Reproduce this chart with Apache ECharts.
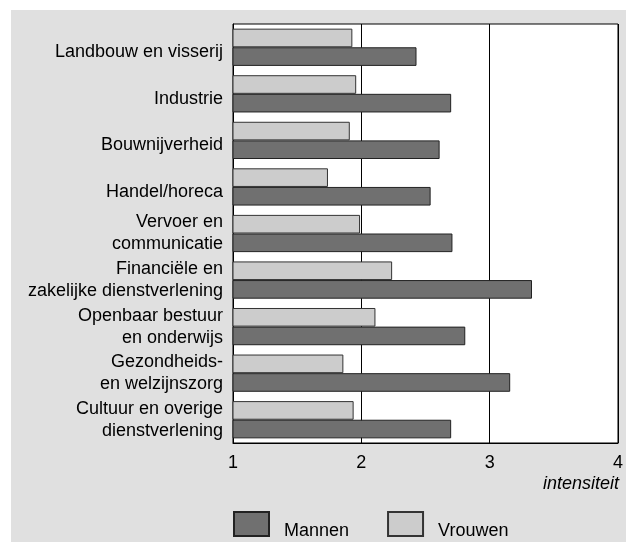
<!DOCTYPE html>
<html><head><meta charset="utf-8">
<script src="https://cdn.jsdelivr.net/npm/echarts@6/dist/echarts.min.js"></script>
<style>
html,body{margin:0;padding:0;background:#fff;}
#bg{position:absolute;left:11px;top:10px;width:615px;height:532px;background:#e0e0e0;}
#c{position:absolute;left:0;top:0;width:626px;height:542px;}
</style></head>
<body><div id="bg"></div><div id="c"></div>
<script>
const categories = [
  "Landbouw en visserij",
  "Industrie",
  "Bouwnijverheid",
  "Handel/horeca",
  "Vervoer en\ncommunicatie",
  "Financiële en\nzakelijke dienstverlening",
  "Openbaar bestuur\nen onderwijs",
  "Gezondheids-\nen welzijnszorg",
  "Cultuur en overige\ndienstverlening"
];
const vrouwen = [1.93, 1.96, 1.91, 1.74, 1.99, 2.24, 2.11, 1.86, 1.94];
const mannen  = [2.43, 2.70, 2.61, 2.54, 2.71, 3.33, 2.81, 3.16, 2.70];
const xTicks = [1, 2, 3, 4];
const xName = "intensiteit";

const chart = echarts.init(document.getElementById('c'), null, {renderer:'canvas'});
const FONT = "'Liberation Sans', Arial, Helvetica, sans-serif";
chart.setOption({
  backgroundColor: 'transparent',
  animation: false,
  textStyle: {fontFamily: FONT, color: '#000'},
  grid: {left: 233, right: 7, top: 24, bottom: 99, show: true, backgroundColor: '#fff', borderColor: '#000', borderWidth: 1},
  legend: {
    left: 228, top: 503, itemWidth: 35, itemHeight: 24, itemGap: 38, icon: 'rect',
    data: ['Mannen', 'Vrouwen'],
    formatter: function (n) { return '\n' + n; },
    textStyle: {fontSize: 18, lineHeight: 14, fontFamily: FONT, color: '#000', padding: [0, 0, 0, 10]}
  },
  xAxis: {
    type: 'value', min: xTicks[0], max: xTicks[xTicks.length - 1], interval: 1,
    axisLine: {show: true, lineStyle: {color: '#000'}},
    axisTick: {show: false},
    axisLabel: {fontSize: 18, color: '#000', margin: 11, fontFamily: FONT},
    splitLine: {show: true, lineStyle: {color: '#000', width: 1}}
  },
  yAxis: {
    type: 'category', data: categories, inverse: true,
    axisLine: {show: true, lineStyle: {color: '#000'}},
    axisTick: {show: false},
    splitLine: {show: false},
    axisLabel: {
      margin: 10, color: '#000', fontSize: 18, lineHeight: 22, fontFamily: FONT, align: 'right',
      formatter: function (v) {
        if (v.indexOf('\n') < 0) return '{s|' + v + '}';
        return v;
      },
      rich: {s: {fontSize: 18, fontFamily: FONT, color: '#000', padding: [10, 0, 0, 0]}}
    }
  },
  graphic: [{
    type: 'text', right: 7, top: 475,
    style: {text: xName, fontSize: 18, fontStyle: 'italic', fontFamily: FONT, fill: '#000'}
  }],
  series: [
    {name: 'Vrouwen', type: 'bar', data: vrouwen, barGap: '0%', barCategoryGap: '20%',
     itemStyle: {color: '#cccccc', borderColor: '#333', borderWidth: 1}},
    {name: 'Mannen', type: 'bar', data: mannen, barGap: '0%', barCategoryGap: '20%',
     itemStyle: {color: '#707070', borderColor: '#222', borderWidth: 1}}
  ]
});
</script></body></html>
